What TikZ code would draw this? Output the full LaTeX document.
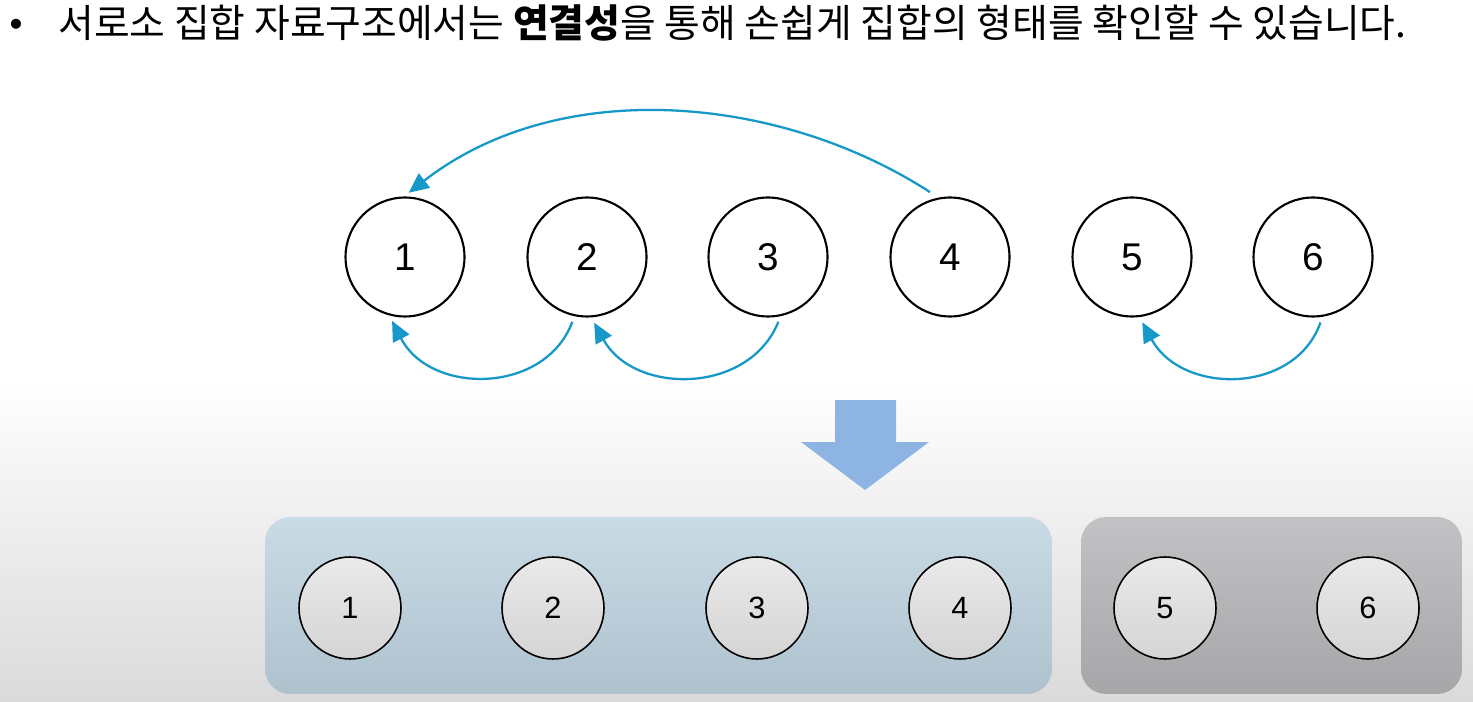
\documentclass[tikz,border=0pt]{standalone}
\usepackage{fontspec}
\setmainfont{Liberation Sans}
\newfontfamily\kr{Noto Sans CJK KR}
\usetikzlibrary{arrows.meta}
\definecolor{arrowblue}{RGB}{22,152,200}
\definecolor{bigarrow}{RGB}{141,180,226}
\definecolor{bluetop}{RGB}{201,219,229}
\definecolor{bluebot}{RGB}{174,194,206}
\definecolor{greytop}{RGB}{194,194,196}
\definecolor{greybot}{RGB}{166,166,168}
\definecolor{bgbot}{RGB}{218,218,218}
\definecolor{circtop}{RGB}{234,234,234}
\definecolor{circbot}{RGB}{212,212,212}
\tikzset{
  topc/.style={draw=black, line width=1.2pt, circle, minimum size=2.38cm, inner sep=0pt, fill=white, font=\fontsize{22}{22}\selectfont},
  botc/.style={draw=black, line width=0.9pt, circle, minimum size=2.04cm, inner sep=0pt, top color=circtop, bottom color=circbot, font=\fontsize{17.5}{17.5}\selectfont},
  link/.style={draw=arrowblue, line width=1.3pt, -{Triangle[length=0.4cm,width=0.36cm]}},
  group/.style={rounded corners=0.5cm, minimum height=3.54cm, inner sep=0pt}
}
\begin{document}
\begin{tikzpicture}[x=0.02cm,y=-0.02cm]
\useasboundingbox (0,0) rectangle (1473,702);
\fill[white] (0,0) rectangle (1473,702);
\shade[top color=white, bottom color=bgbot] (0,380) rectangle (1473,702);
% title
\node[anchor=center, font=\fontsize{21}{21}\selectfont] (bullet) at (16,28) {•};
\node[anchor=base west, inner sep=0pt, font=\kr\fontsize{22.1}{22.1}\selectfont] (title) at (58,38) {서로소 집합 자료구조에서는 \textbf{연결성}을 통해 손쉽게 집합의 형태를 확인할 수 있습니다.};
% top circles
\node[topc] (n1) at (405,257) {1};
\node[topc] (n2) at (587,257) {2};
\node[topc] (n3) at (768,257) {3};
\node[topc] (n4) at (950,257) {4};
\node[topc] (n5) at (1132,257) {5};
\node[topc] (n6) at (1313,257) {6};
% links
\draw[link, shorten <=0.2cm, shorten >=0.12cm] (n4.101) .. controls (780,95) and (560,75) .. (n1.91);
\draw[link, shorten <=0.12cm, shorten >=0.12cm] (n2.258) .. controls (545,395) and (430,395) .. (n1.255);
\draw[link, shorten <=0.12cm, shorten >=0.12cm] (n3.282) .. controls (749,395) and (634,395) .. (n2.274);
\draw[link, shorten <=0.12cm, shorten >=0.12cm] (n6.279) .. controls (1295,395) and (1182,395) .. (n5.277);
% down arrow
\fill[bigarrow] (835,400) -- (896,400) -- (896,442) -- (929,442) -- (865,490) -- (801,442) -- (835,442) -- cycle;
% groups
\node[group, minimum width=15.74cm, top color=bluetop, bottom color=bluebot] (gA) at (658.5,605.5) {};
\node[group, minimum width=7.62cm, top color=greytop, bottom color=greybot] (gB) at (1271.5,605.5) {};
% bottom circles
\node[botc] (m1) at (350,608) {1};
\node[botc] (m2) at (553,608) {2};
\node[botc] (m3) at (757,608) {3};
\node[botc] (m4) at (960,608) {4};
\node[botc] (m5) at (1165,608) {5};
\node[botc] (m6) at (1368,608) {6};
\end{tikzpicture}
\end{document}
